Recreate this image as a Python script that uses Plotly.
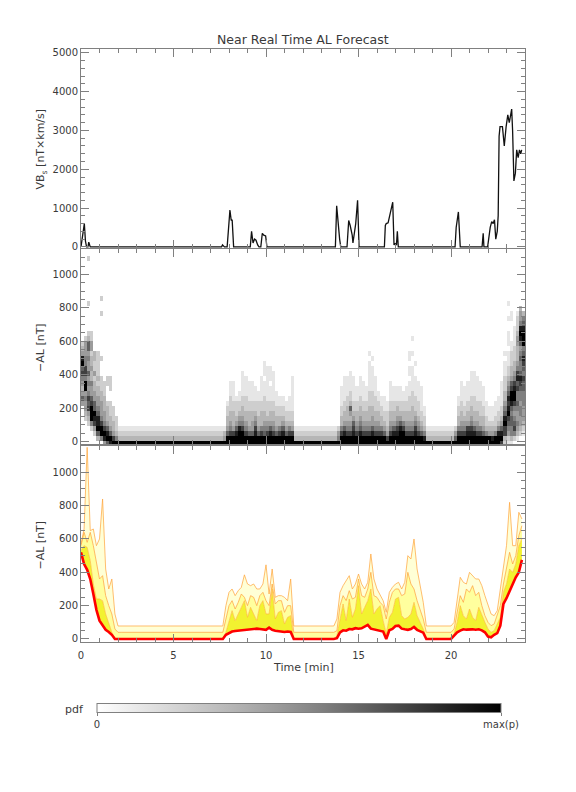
import plotly.graph_objects as go

# ---------------- DATA ----------------
# Top panel: VBs [nT x km/s]
vbs_time = [0.0, 0.08, 0.18, 0.24, 0.3, 0.38, 0.42, 0.5,
            7.6, 7.65, 7.75, 7.9, 7.98, 8.05, 8.12, 8.17, 8.25,
            9.15, 9.22, 9.3, 9.38, 9.46, 9.55, 9.62, 9.72, 9.8, 9.88, 9.98, 10.05,
            13.75, 13.82, 13.9, 13.98, 14.04, 14.38, 14.47, 14.55, 14.66, 14.7, 14.85, 14.95, 15.03,
            16.4, 16.45, 16.5, 16.6, 16.75, 16.85, 16.92, 16.98, 17.05, 17.1, 17.15,
            20.22, 20.28, 20.33, 20.4, 20.5,
            21.68, 21.74, 21.78, 21.98, 22.05, 22.12, 22.2, 22.28, 22.35, 22.42, 22.5, 22.55,
            22.6, 22.65, 22.78, 22.88, 22.98, 23.07, 23.15, 23.28, 23.33, 23.4, 23.48, 23.55,
            23.63, 23.7, 23.77, 23.82]
vbs_value = [0, 300, 600, 150, 0, 0, 120, 0,
             0, 50, 0, 0, 650, 950, 680, 700, 0,
             0, 400, 100, 200, 170, 50, 0, 0, 350, 300, 280, 0,
             0, 1060, 500, 200, 0, 0, 680, 550, 300, 100, 600, 1200, 0,
             0, 550, 600, 620, 900, 1150, 50, 80, 50, 400, 0,
             0, 500, 650, 900, 0,
             0, 350, 0, 0, 350, 500, 650, 600, 700, 200, 400, 800,
             2850, 3100, 3100, 2600, 3100, 3400, 3200, 3550, 3000, 1700, 1900, 2500,
             2300, 2500, 2400, 2500]

# Middle panel: pdf of -AL; one string per 10-s time column,
# characters = grey level (0 empty .. 9 black) for 30 nT rows from the bottom row upward
pdf_step_min = 1.0 / 6.0
pdf_row_nT = 30
pdf_cols = [
    "000000004643457698432",
    "0000023445499577554442",
    "00002347675454644546632000002000000002",
    "00025999764453343324422",
    "0024789664433242233",
    "0369886544332322222",
    "059975444332220002000000002002",
    "4897544333222",
    "69864333200022",
    "89643322200222",
    "97433222",
    "953222",
    "9321", "9321", "9321", "9321", "9321", "9321", "9321", "9321", "9321", "9321",
    "9321", "9321", "9321", "9321", "9321", "9321", "9321", "9321", "9321", "9321",
    "9321", "9321", "9321", "9321", "9321", "9321", "9321", "9321", "9321", "9321",
    "9321", "9321", "9321", "9321",
    "9431",
    "996433221",
    "9975433222111",
    "9974333221111",
    "9986432221",
    "99985432211",
    "999754332211111",
    "99754332221111",
    "9964333221111",
    "9964433221111",
    "998754322111",
    "99643322211",
    "99753332211111",
    "99654332221110111",
    "9975432221111111",
    "9986433221110111",
    "997543322111111",
    "99643322111",
    "9975332211",
    "9986432211",
    "996432211",
    "9975322111",
    "99743221111111",
    "9321", "9321", "9321", "9321", "9321", "9321", "9321", "9321", "9321", "9321",
    "9321", "9321", "9321", "9321",
    "9542",
    "997533221111",
    "99864332211111",
    "99754333221111",
    "997543463221111",
    "99876432211111",
    "997543322111",
    "99865433221111",
    "9975433221111",
    "997543322111",
    "9975433322211111101",
    "998644332221111101",
    "99754332221111",
    "99754332211",
    "9975332211",
    "9964322111",
    "974322211",
    "9975433221111",
    "998643322111",
    "998754332111",
    "999864322111",
    "99975332211",
    "997543322111",
    "9975433222111011011",
    "9975433322211111001001",
    "99875432221111001",
    "9975432221111",
    "996432211111",
    "98532211",
    "9321", "9321", "9321", "9321", "9321", "9321", "9321", "9321", "9321",
    "9642",
    "9975332211",
    "9975433221111",
    "997543221111",
    "9987433221111",
    "998754332211111",
    "998643322211111",
    "99754332211111",
    "9975332221111",
    "996433221111",
    "995322111",
    "99432111",
    "98432111",
    "995322111",
    "9985322111",
    "7986432211111",
    "2377986543322211101",
    "12456798786543221110111001001",
    "135566568997643322211000011",
    "025765457998754332221111",
    "013454456557687543334432221",
    "0023445545567865565468985443",
    "001234445556675678659998653",
]

# Bottom panel: forecast envelopes of -AL [nT], one value every 10 s
al_red = [520, 450, 415, 360, 270, 175, 110, 85, 55, 42, 25, 0, 0,
          0, 0, 0, 0, 0, 0, 0, 0, 0, 0, 0, 0, 0, 0, 0, 0, 0, 0, 0, 0, 0, 0, 0, 0, 0, 0, 0, 0, 0, 0, 0, 0, 0,
          0,
          25, 35, 45, 48, 50, 55, 58, 60, 58, 60, 62, 60, 58, 55, 68, 55, 50, 48, 45, 42, 45, 42, 0,
          0, 0, 0, 0, 0, 0, 0, 0, 0, 0, 0, 0, 0,
          5,
          40, 52, 50, 60, 58, 65, 62, 64, 75, 85, 62, 58, 52, 50, 45, 0, 52, 60, 78, 80, 62, 58, 55, 60, 72, 55, 45, 38,
          0, 0, 0, 0, 0, 0, 0, 0, 0,
          20,
          40, 50, 58, 56, 58, 58, 56, 58, 52, 40, 15, 10, 25, 35, 80, 210, 245, 290, 330, 370, 400, 475]
al_p1 = [530, 560, 550, 470, 330, 240, 240, 230, 150, 90, 40, 0, 0,
         0, 0, 0, 0, 0, 0, 0, 0, 0, 0, 0, 0, 0, 0, 0, 0, 0, 0, 0, 0, 0, 0, 0, 0, 0, 0, 0, 0, 0, 0, 0, 0, 0,
         0,
         40, 100, 170, 110, 150, 200, 230, 130, 190, 150, 110, 200, 230, 150, 150, 300, 120, 160, 170, 90, 130, 140, 0,
         0, 0, 0, 0, 0, 0, 0, 0, 0, 0, 0, 0, 0,
         20,
         110, 210, 110, 240, 130, 180, 320, 150, 190, 230, 300, 150, 180, 200, 110, 30, 130, 160, 240, 250, 140, 120, 130, 150, 220, 140, 100, 60,
         0, 0, 0, 0, 0, 0, 0, 0, 0,
         30,
         100, 200, 140, 120, 180, 130, 110, 190, 140, 100, 60, 40, 50, 90, 130, 280, 330, 420, 400, 450, 560, 600]
al_p2 = [560, 640, 580, 640, 560, 450, 360, 380, 260, 200, 150, 60, 40,
         40, 40, 40, 40, 40, 40, 40, 40, 40, 40, 40, 40, 40, 40, 40, 40, 40, 40, 40, 40, 40, 40, 40, 40, 40, 40, 40, 40, 40, 40, 40, 40, 40,
         40,
         120, 200, 230, 180, 220, 270, 250, 200, 260, 250, 200, 260, 280, 230, 200, 330, 210, 230, 230, 160, 200, 200, 40,
         40, 40, 40, 40, 40, 40, 40, 40, 40, 40, 40, 40, 40,
         50,
         200, 260, 230, 290, 240, 250, 360, 260, 250, 300, 400, 260, 250, 220, 200, 120, 220, 280, 300, 300, 260, 270, 400, 330, 300, 230, 180, 120,
         40, 40, 40, 40, 40, 40, 40, 40, 40,
         60,
         160, 260, 220, 300, 280, 320, 260, 280, 200, 140, 100, 80, 90, 140, 200, 330, 420, 520, 450, 500, 620, 680]
al_p3 = [570, 660, 1150, 650, 660, 560, 600, 840, 420, 300, 360, 150, 78,
         78, 78, 78, 78, 78, 78, 78, 78, 78, 78, 78, 78, 78, 78, 78, 78, 78, 78, 78, 78, 78, 78, 78, 78, 78, 78, 78, 78, 78, 78, 78, 78, 78,
         78,
         200, 280, 300, 260, 290, 310, 385, 330, 320, 330, 300, 300, 330, 445, 270, 420, 250, 260, 260, 250, 230, 360, 78,
         78, 78, 78, 78, 78, 78, 78, 78, 78, 78, 78, 78, 78,
         120,
         280, 320, 350, 380, 300, 330, 390, 330, 300, 340, 510, 360, 300, 260, 230, 160, 280, 310, 330, 340, 300, 340, 500, 480, 600, 420, 320, 220,
         78, 78, 78, 78, 78, 78, 78, 78, 78,
         100,
         250, 370, 340, 330, 400, 380, 360, 360, 320, 260, 200, 150, 140, 170, 300, 420, 560, 820, 560, 560, 760, 720]

x_ticks = [0, 5, 10, 15, 20]
colorbar_text = ["0", "max(p)"]

# ---------------- BUILD ----------------
n_cols = len(pdf_cols)
n_rows = 40
pdf_x = [(c + 0.5) * pdf_step_min for c in range(n_cols)]
pdf_y = [pdf_row_nT * k - pdf_row_nT / 2 for k in range(n_rows)]
z = [[None] * n_cols for _ in range(n_rows)]
for c, s in enumerate(pdf_cols):
    for k, ch in enumerate(s):
        v = int(ch)
        if v > 0:
            z[k][c] = v

al_time = [i * pdf_step_min for i in range(len(al_red))]

FONT = "DejaVu Sans"
TXT = "#3a3a3a"
AX = "#808080"

grey_scale = [[0.0, "#ffffff"], [0.111, "#e6e6e6"], [0.222, "#cecece"], [0.333, "#b6b6b6"],
              [0.444, "#9c9c9c"], [0.556, "#808080"], [0.667, "#606060"], [0.778, "#404040"],
              [0.889, "#1e1e1e"], [1.0, "#000000"]]

fig = go.Figure()

fig.add_trace(go.Scatter(x=vbs_time, y=vbs_value, mode="lines",
                         line=dict(color="#111111", width=1.3),
                         xaxis="x", yaxis="y", showlegend=False))

fig.add_trace(go.Heatmap(
    z=z, x=pdf_x, y=pdf_y, xaxis="x2", yaxis="y2",
    colorscale=grey_scale, zmin=0, zmax=9,
    hoverongaps=False,
    colorbar=dict(orientation="h", x=0.491, xanchor="center",
                  y=-0.1273, yanchor="middle",
                  len=404, lenmode="pixels", thickness=9, thicknessmode="pixels",
                  outlinecolor=AX, outlinewidth=1, xpad=0, ypad=0,
                  tickvals=[0, 9], ticktext=colorbar_text,
                  ticks="outside", ticklen=3, tickcolor=AX,
                  tickfont=dict(family=FONT, size=10, color=TXT))))

fig.add_trace(go.Scatter(x=al_time, y=al_red, mode="lines", line=dict(width=0, color="red"),
                         xaxis="x3", yaxis="y3", showlegend=False))
fig.add_trace(go.Scatter(x=al_time, y=al_p1, mode="lines", fill="tonexty",
                         fillcolor="#f2f230", line=dict(width=0.8, color="rgba(255,180,50,0.8)"),
                         xaxis="x3", yaxis="y3", showlegend=False))
fig.add_trace(go.Scatter(x=al_time, y=al_p2, mode="lines", fill="tonexty",
                         fillcolor="#ffff9e", line=dict(width=0.9, color="rgba(255,165,60,0.85)"),
                         xaxis="x3", yaxis="y3", showlegend=False))
fig.add_trace(go.Scatter(x=al_time, y=al_p3, mode="lines", fill="tonexty",
                         fillcolor="#ffffd6", line=dict(width=0.9, color="rgba(255,165,60,0.8)"),
                         xaxis="x3", yaxis="y3", showlegend=False))
fig.add_trace(go.Scatter(x=al_time, y=al_red, mode="lines", line=dict(width=2.6, color="#ff0000"),
                         xaxis="x3", yaxis="y3", showlegend=False))

def ax(**kw):
    d = dict(showline=True, linecolor=AX, linewidth=1, mirror="ticks",
             ticks="inside", ticklen=8, tickcolor=AX, tickwidth=1,
             showgrid=False, zeroline=False,
             tickfont=dict(family=FONT, size=10, color=TXT))
    d.update(kw)
    return d

xcommon = dict(range=[0, 24], tickvals=x_ticks,
               minor=dict(dtick=1, ticks="inside", ticklen=4, tickcolor=AX, showgrid=False))

fig.update_layout(
    width=576, height=792,
    margin=dict(l=81, r=51, t=49, b=150),
    paper_bgcolor="white", plot_bgcolor="white",
    showlegend=False,
    xaxis=ax(domain=[0, 1], anchor="y", showticklabels=False, **xcommon),
    xaxis2=ax(domain=[0, 1], anchor="y2", showticklabels=False, **xcommon),
    xaxis3=ax(domain=[0, 1], anchor="y3", showticklabels=True, ticklabelstandoff=4, **xcommon),
    yaxis=ax(domain=[0.6644, 1.0], anchor="x", range=[-30, 5100], tickvals=[0, 1000, 2000, 3000, 4000, 5000],
             minor=dict(dtick=200, tick0=0, ticks="inside", ticklen=4, tickcolor=AX, showgrid=False)),
    yaxis2=ax(domain=[0.3339, 0.6619], anchor="x2", range=[-15, 1150], tickvals=[0, 200, 400, 600, 800, 1000],
              minor=dict(dtick=50, tick0=0, ticks="inside", ticklen=4, tickcolor=AX, showgrid=False)),
    yaxis3=ax(domain=[0.0, 0.3297], anchor="x3", range=[-18, 1155], tickvals=[0, 200, 400, 600, 800, 1000],
              minor=dict(dtick=50, tick0=0, ticks="inside", ticklen=4, tickcolor=AX, showgrid=False)),
)

ann_font = dict(family=FONT, size=11, color=TXT)
fig.add_annotation(text="Near Real Time AL Forecast", xref="paper", yref="paper",
                   x=0.5, y=1.0152, xanchor="center", yanchor="middle", showarrow=False,
                   font=dict(family=FONT, size=12.5, color=TXT))
fig.add_annotation(text="VB<sub>s</sub> [nT×km/s]", xref="paper", yref="paper",
                   x=-0.0901, y=0.8322, textangle=-90, xanchor="center", yanchor="middle",
                   showarrow=False, font=ann_font)
fig.add_annotation(text="−AL [nT]", xref="paper", yref="paper",
                   x=-0.0901, y=0.4975, textangle=-90, xanchor="center", yanchor="middle",
                   showarrow=False, font=ann_font)
fig.add_annotation(text="−AL [nT]", xref="paper", yref="paper",
                   x=-0.0901, y=0.1644, textangle=-90, xanchor="center", yanchor="middle",
                   showarrow=False, font=ann_font)
fig.add_annotation(text="Time [min]", xref="paper", yref="paper",
                   x=0.5, y=-0.0422, xanchor="center", yanchor="middle",
                   showarrow=False, font=ann_font)
fig.add_annotation(text="pdf", xref="paper", yref="paper",
                   x=0.012, y=-0.113, xanchor="right", yanchor="middle",
                   showarrow=False, font=ann_font)

fig.write_html("out.html", config={"displayModeBar": False},
               post_script="document.body.style.margin='0px';")
